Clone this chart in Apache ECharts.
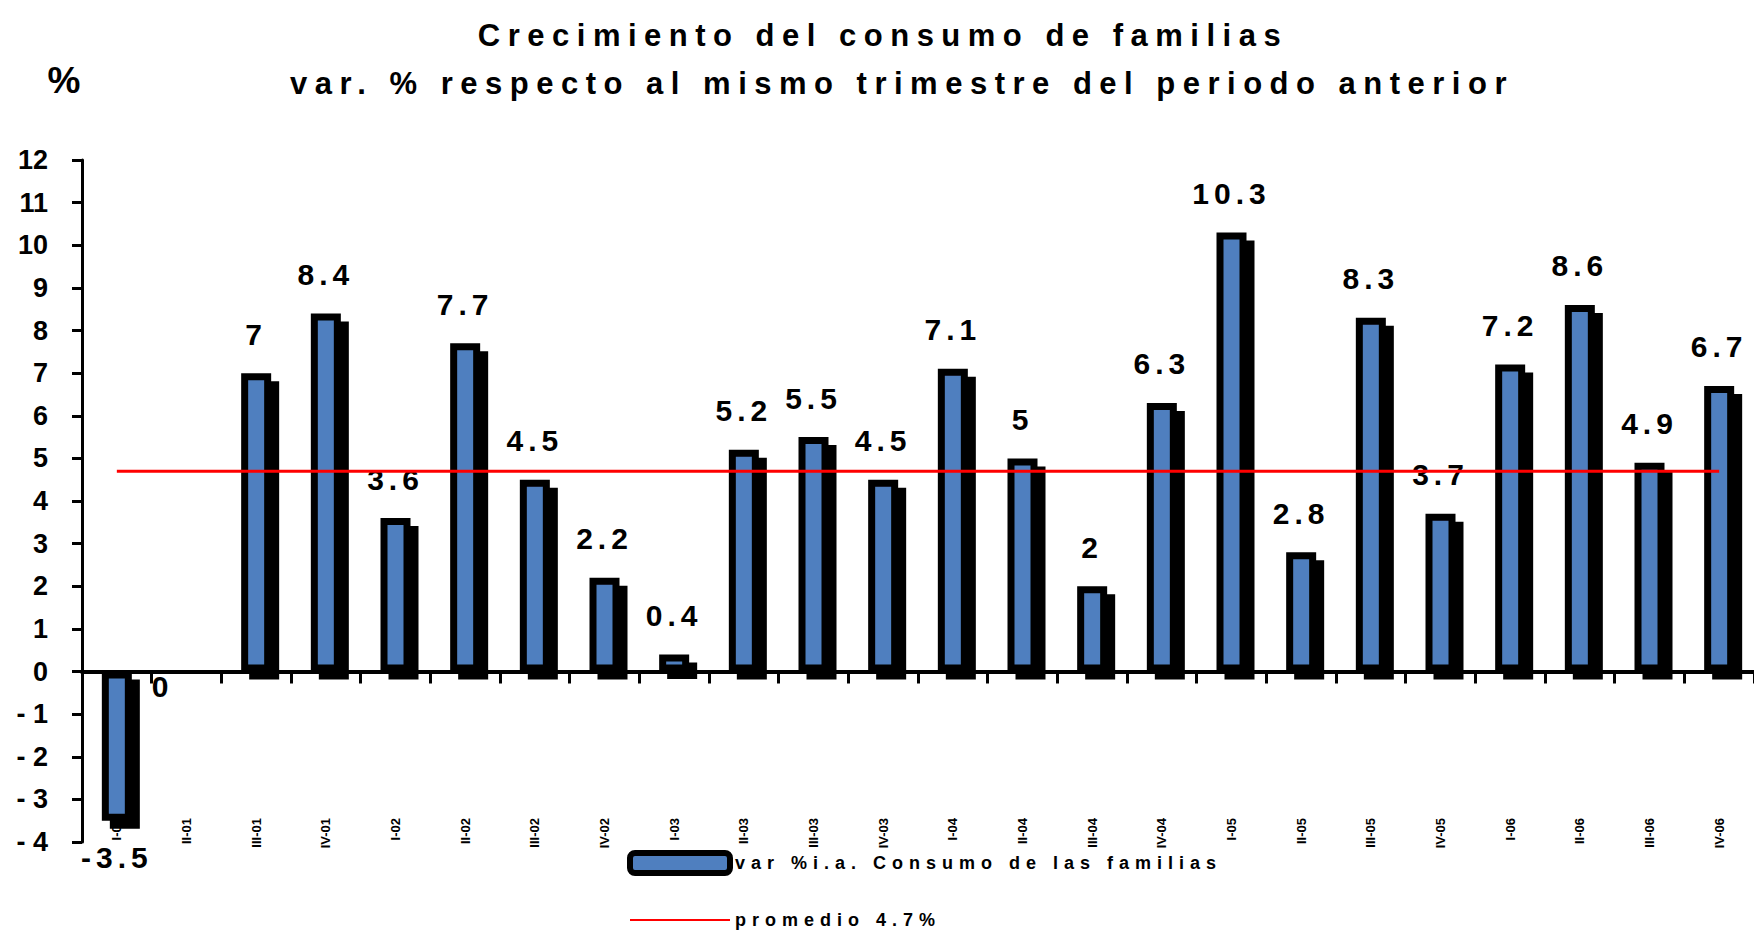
<!DOCTYPE html>
<html>
<head>
<meta charset="utf-8">
<script src="https://cdn.jsdelivr.net/npm/echarts@6/dist/echarts.min.js"></script>
<style>
  html, body { margin: 0; padding: 0; background: #fff; }
  #chart { width: 1754px; height: 933px; }
  /* spaced-out lettering of the original */
  #chart text[style*="31px"] { letter-spacing: 7.5px; }
  #chart text[style*="30px"] { letter-spacing: 5px; }
  #chart text[style*="18px"] { letter-spacing: 6px; }
</style>
</head>
<body>
<div id="chart"></div>
<script>
// trimestres (etiquetas ilegibles en el original)
let quarters = ['I-01','II-01','III-01','IV-01','I-02','II-02','III-02','IV-02',
                'I-03','II-03','III-03','IV-03','I-04','II-04','III-04','IV-04',
                'I-05','II-05','III-05','IV-05','I-06','II-06','III-06','IV-06']
let consumo = [-3.5, 0, 7, 8.4, 3.6, 7.7, 4.5, 2.2, 0.4, 5.2, 5.5, 4.5,
               7.1, 5, 2, 6.3, 10.3, 2.8, 8.3, 3.7, 7.2, 8.6, 4.9, 6.7]
let promedio = 4.7

let nameBar = 'var %i.a. Consumo de las familias'
let nameAvg = 'promedio 4.7%'
let blue = '#4f7fbf'
let font = '"Liberation Sans", Arial, sans-serif'

let barData = []
for (let i = 0; i < consumo.length; i++) {
    let v = consumo[i]
    if (v === 0) {
        barData.push({
            value: v,
            itemStyle: {borderWidth: 0, shadowColor: 'rgba(0,0,0,0)'},
            label: {offset: [-24, 54]}
        })
    } else if (v < 0) {
        barData.push({value: v, label: {position: 'bottom', distance: 22}})
    } else {
        barData.push(v)
    }
}
let avgData = quarters.map(function () { return promedio })

let myChart = echarts.init(document.getElementById('chart'), null, {renderer: 'svg'})
const option = {
    animation: false,
    textStyle: {fontFamily: font},
    grid: {left: 82, top: 160, right: -8, bottom: 91, containLabel: false},
    graphic: [
        {type: 'text', x: 883, y: 35, style: {text: 'Crecimiento del consumo de familias',
            font: 'bold 31px ' + font, fill: '#000', textAlign: 'center', textVerticalAlign: 'middle'}},
        {type: 'text', x: 902, y: 83, style: {text: 'var. % respecto al mismo trimestre del periodo anterior',
            font: 'bold 31px ' + font, fill: '#000', textAlign: 'center', textVerticalAlign: 'middle'}},
        {type: 'text', x: 64, y: 80, style: {text: '%',
            font: 'bold 37px ' + font, fill: '#000', textAlign: 'center', textVerticalAlign: 'middle'}}
    ],
    legend: {
        orient: 'vertical',
        left: 627,
        top: 850,
        padding: 0,
        itemWidth: 100,
        itemHeight: 20,
        itemGap: 35,
        itemTextGap: 10,
        textStyle: {fontSize: 18, fontWeight: 'bold', color: '#000'},
        data: [
            {name: nameBar, icon: 'roundRect', itemStyle: {color: blue, borderColor: '#000', borderWidth: 6}},
            {name: nameAvg, itemStyle: {color: 'rgba(0,0,0,0)', borderWidth: 0}}
        ]
    },
    xAxis: [
        {
            type: 'category',
            data: quarters,
            position: 'bottom',
            axisLine: {show: true, onZero: true, lineStyle: {color: '#000', width: 4}},
            axisTick: {show: true, inside: false, interval: 0, length: 12,
                       lineStyle: {color: '#000', width: 3}},
            axisLabel: {show: false}
        },
        {
            type: 'category',
            data: quarters,
            position: 'bottom',
            axisLine: {show: false, onZero: false},
            axisTick: {show: false},
            axisLabel: {interval: 0, rotate: 90, margin: -24, fontSize: 13, fontWeight: 'bold', color: '#000'}
        }
    ],
    yAxis: {
        type: 'value',
        min: -4,
        max: 12,
        interval: 1,
        splitLine: {show: false},
        axisLine: {show: true, lineStyle: {color: '#000', width: 3}},
        axisTick: {show: true, length: 10, lineStyle: {color: '#000', width: 3}},
        axisLabel: {
            margin: 34, fontSize: 27, fontWeight: 'bold', color: '#000',
            formatter: function (v) { return v < 0 ? '- ' + Math.abs(v) : String(v) }
        }
    },
    series: [
        {
            name: nameBar,
            type: 'bar',
            xAxisIndex: 0,
            barWidth: 30,
            data: barData,
            itemStyle: {
                color: blue,
                borderColor: '#000',
                borderWidth: 7,
                shadowColor: '#000',
                shadowBlur: 0,
                shadowOffsetX: 8,
                shadowOffsetY: 8
            },
            label: {
                show: true,
                position: 'top',
                distance: 24,
                fontSize: 30,
                fontWeight: 'bold',
                color: '#000'
            }
        },
        {
            name: nameAvg,
            type: 'line',
            xAxisIndex: 0,
            data: avgData,
            symbol: 'none',
            lineStyle: {color: '#ff0000', width: 3},
            itemStyle: {color: '#ff0000'}
        }
    ]
}
myChart.setOption(option)
</script>
</body>
</html>
